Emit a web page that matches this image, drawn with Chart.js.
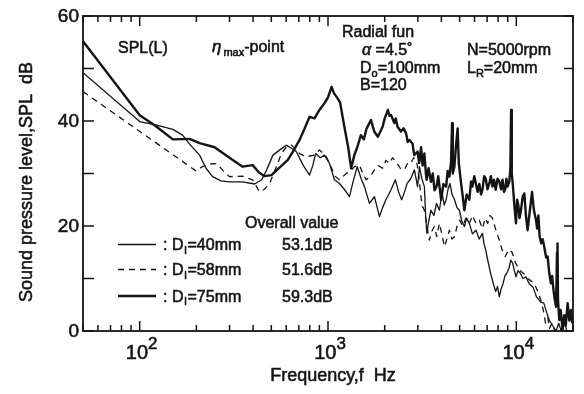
<!DOCTYPE html>
<html><head><meta charset="utf-8">
<script src="https://cdn.jsdelivr.net/npm/chart.js@4.4.1/dist/chart.umd.min.js"></script>
<style>html,body{margin:0;padding:0;background:#fff;}canvas{display:block}</style>
</head><body>
<canvas id="c" width="584" height="394"></canvas>
<script>
// ---------------- data ----------------
const freqD40 = [50,100,123,150,169,185,208,225,244,270,300,352,408,444,470,510,555,600,640,678,740,798,830,860,910,958,1018,1082,1150,1220,1300,1360,1430,1500,1562,1660,1765,1876,1950,2030,2100,2160,2280,2370,2460,2550,2630,2750,2877,2990,3058,3150,3250,3300,3350,3430,3520,3650,3770,3900,4040,4140,4240,4340,4440,4560,4700,4840,4984,5130,5300,5450,5630,5850,6110,6350,6610,6750,6880,7100,7300,7550,7770,7950,8124,8300,8500,8700,8900,9150,9350,9570,9760,9960,10200,10500,10850,11250,11700,12250,12800,13500,14000,14500,14962,15600,16260,16800,17300,18000,18500];
const splD40  = [49.2,39.9,39.2,38.4,37.3,35.5,33.5,31.0,29.4,28.6,28.4,28.4,28.0,28.8,30.5,33.5,34.5,35.4,34.8,34.2,31.5,29.7,31.5,33.8,33.0,33.5,31.9,28.8,28.1,27.0,25.6,28.5,31.3,29.0,27.5,24.3,25.6,21.8,23.5,25.0,26.0,26.9,28.8,26.5,25.0,26.5,28.1,29.0,30.7,27.5,31.3,29.0,27.5,22.0,18.6,21.0,23.0,22.0,24.3,23.0,26.2,24.0,25.0,27.0,28.1,26.0,25.0,23.5,23.0,21.0,19.9,21.5,20.5,18.5,19.2,17.5,18.6,16.5,15.4,13.0,11.0,9.0,7.5,8.5,6.5,8.0,9.0,10.5,11.0,12.0,13.5,12.9,11.5,10.3,11.5,11.0,10.0,10.3,9.0,8.4,6.5,5.5,5.3,3.5,2.1,1.0,0,1.5,0,2.5,0];

const freqD58 = [50,199,215,235,256,280,300,350,398,433,460,490,532,566,600,640,680,706,767,848,901,980,1030,1090,1150,1250,1320,1382,1469,1530,1595,1680,1765,1850,1950,2030,2120,2200,2300,2420,2546,2650,2750,2850,2950,3050,3150,3250,3350,3455,3560,3673,3780,3904,4020,4150,4280,4411,4550,4700,4850,5000,5200,5400,5632,5850,6100,6363,6600,6850,7050,7250,7470,7750,8124,8400,8740,9100,9500,9900,10372,10900,11500,12000,12457,13000,13500,13900,14300,14700,15000,15500,16000,17000];
const splD58  = [45.6,30.5,31.3,31.8,31.9,30.4,29.4,29.5,28.8,26.5,27.0,28.1,31.3,33.8,35.0,35.4,34.5,33.8,33.2,33.5,34.5,33.2,31.5,29.5,28.8,30.0,30.5,31.3,31.6,30.0,28.8,29.5,30.7,31.5,31.0,32.5,31.9,33.0,32.2,31.0,30.7,32.0,31.9,33.0,32.6,29.0,24.0,23.0,20.0,17.3,19.0,19.9,18.0,20.5,18.5,16.1,17.5,19.2,17.5,18.0,20.0,21.1,20.0,21.5,20.5,22.0,20.5,21.1,19.5,21.5,20.5,22.0,21.5,19.5,17.3,15.5,14.2,15.5,15.0,13.0,11.6,11.0,10.0,9.5,9.1,7.5,5.9,4.0,1.5,2.5,0.5,1.5,0,0.5];

const freqD75 = [50,100,120,150,184,208,250,300,352,398,430,460,501,540,612,660,706,750,798,848,880,901,958,981,1000,1045,1075,1125,1160,1220,1280,1327,1380,1430,1495,1550,1600,1690,1760,1840,1950,2000,2080,2120,2165,2250,2290,2340,2440,2520,2600,2650,2706,2810,2870,2990,3050,3120,3180,3250,3310,3340,3420,3520,3600,3680,3770,3850,3990,4100,4240,4320,4411,4500,4560,4600,4690,4800,4880,4950,5090,5200,5300,5450,5630,5750,5850,5980,6100,6230,6363,6500,6610,6750,6880,7030,7190,7330,7470,7620,7770,7950,8124,8300,8450,8600,8740,8860,8990,9180,9300,9380,9460,9570,9760,9960,10100,10250,10400,10590,10800,11025,11250,11480,11720,11900,12120,12400,12730,12900,13100,13300,13550,13800,14076,14400,14670,14960,15280,15500,15730,16000,16260,16450,16550,16650,16905,17200,17620,17970,18300,18730,19100,19500,19800];
const splD75  = [55.2,41.1,39.2,36.5,36.6,35.8,35.0,33.0,31.3,31.6,30.2,29.5,29.7,30.8,32.6,34.5,36.4,38.5,40.8,40.5,41.5,42.1,43.4,44.0,44.5,46.5,45.3,44.3,43.5,39.0,35.0,31.0,33.5,35.0,37.3,36.5,38.5,40.2,38.0,37.0,38.9,40.5,42.1,41.0,41.1,39.6,40.5,38.9,38.0,38.6,37.6,36.0,36.4,35.7,33.5,34.2,32.0,35.0,31.5,33.8,30.0,28.8,31.0,28.4,30.0,26.8,27.5,29.5,25.0,28.0,27.5,30.5,29.4,32.0,39.6,30.0,31.3,36.0,38.6,32.0,28.1,25.5,23.0,26.0,25.0,28.5,27.5,29.5,28.1,26.5,28.0,26.0,26.9,29.5,29.0,27.0,28.1,29.5,27.5,28.8,26.9,29.0,28.5,27.0,28.8,26.5,27.0,29.0,27.5,28.5,31.0,42.1,30.0,28.1,24.0,20.5,25.0,24.0,21.5,23.0,25.5,26.2,22.0,19.2,22.0,24.0,26.5,23.0,21.1,19.5,22.0,18.0,16.7,17.5,16.0,14.0,14.2,11.0,9.1,10.5,8.0,6.0,4.6,15.0,16.7,6.0,2.1,4.0,0.2,3.0,1.0,5.3,2.0,4.0,1.5];

const seriesNames   = ['40mm','58mm','75mm'];
const overallValues = ['53.1dB','51.6dB','59.3dB'];
const yTickValues   = [0,20,40,60];
const xDecades      = [100,1000,10000];
const xExponents    = ['2','3','4'];
const xMin = 50, xMax = 20000, yMin = 0, yMax = 60;

// ---------------- chart ----------------
const FONT = '"Liberation Sans", Arial, Helvetica, sans-serif';
const INK = '#141414';
const pts = (f, v) => f.map((x, i) => ({x: x, y: v[i]}));

const decor = {
  id: 'decor',
  afterDraw(chart) {
    const ctx = chart.ctx, a = chart.chartArea;
    const xs = chart.scales.x, ys = chart.scales.y;
    ctx.save();
    ctx.strokeStyle = INK; ctx.fillStyle = INK;
    // frame
    ctx.lineWidth = 1.8;
    ctx.strokeRect(a.left, a.top, a.right - a.left, a.bottom - a.top);
    // y ticks (inward, both sides)
    ctx.lineWidth = 1.5;
    for (let v = yMin; v <= yMax; v += 10) {
      const y = ys.getPixelForValue(v);
      ctx.beginPath();
      ctx.moveTo(a.left, y); ctx.lineTo(a.left + 11, y);
      ctx.moveTo(a.right, y); ctx.lineTo(a.right - 9, y);
      ctx.stroke();
    }
    // x ticks (inward, top and bottom)
    for (let d = 10; d <= 10000; d *= 10) {
      for (let m = 1; m <= 9; m++) {
        const f = m * d;
        if (f < xMin || f > xMax) continue;
        const x = xs.getPixelForValue(f);
        const len = m === 1 ? 10 : 6;
        ctx.beginPath();
        ctx.moveTo(x, a.bottom); ctx.lineTo(x, a.bottom - len);
        ctx.moveTo(x, a.top); ctx.lineTo(x, a.top + len);
        ctx.stroke();
      }
    }
    // text helper: filled plus a thin stroke to mimic the heavy scanned type
    const put = (s, x, y) => { ctx.fillText(s, x, y); ctx.lineWidth = 0.55; ctx.strokeText(s, x, y); };
    // y tick labels
    ctx.font = '19px ' + FONT;
    ctx.textAlign = 'right'; ctx.textBaseline = 'middle';
    yTickValues.forEach(v => put(String(v), a.left - 4, ys.getPixelForValue(v) + 1));
    // x tick labels 10^n
    xDecades.forEach((f, i) => {
      const x = xs.getPixelForValue(f);
      ctx.font = '20px ' + FONT;
      const w1 = ctx.measureText('10').width;
      ctx.font = '17px ' + FONT;
      const w2 = ctx.measureText(xExponents[i]).width;
      const x0 = x + 2 - (w1 + w2) / 2;
      ctx.textAlign = 'left'; ctx.textBaseline = 'alphabetic';
      ctx.font = '20px ' + FONT;
      put('10', x0, 359);
      ctx.font = '17px ' + FONT;
      put(xExponents[i], x0 + w1, 349);
    });
    // axis titles
    ctx.font = '18px ' + FONT;
    ctx.textAlign = 'center'; ctx.textBaseline = 'alphabetic';
    put('Frequency,f  Hz', 333, 381);
    ctx.save();
    ctx.translate(32, 182); ctx.rotate(-Math.PI / 2);
    put('Sound pressure level,SPL  dB', 0, 0);
    ctx.restore();
    // annotations
    const T = (s, x, y, size, style) => {
      ctx.font = (style || '') + ' ' + size + 'px ' + FONT;
      ctx.textAlign = 'left'; ctx.textBaseline = 'alphabetic';
      put(s, x, y);
      return x + ctx.measureText(s).width;
    };
    T('SPL(L)', 118, 53, 16);
    let xx = T('η', 212, 52, 17, 'italic');
    xx = T('max', xx + 2, 56, 11);
    T('-point', xx, 52, 16);
    T('Radial fun', 342, 37, 16);
    xx = T('α', 362, 55, 16, 'italic');
    T(' =4.5˚', xx, 55, 16);
    xx = T('D', 360, 73, 16);
    xx = T('o', xx, 77, 11);
    T('=100mm', xx, 73, 16);
    T('B=120', 360, 90, 16);
    T('N=5000rpm', 467, 55, 16);
    xx = T('L', 467, 73, 16);
    xx = T('R', xx, 77, 11);
    T('=20mm', xx, 73, 16);
    // legend
    T('Overall value', 245, 228, 16);
    const rows = [244.5, 269.5, 296];
    chart.data.datasets.forEach((ds, i) => {
      ctx.save();
      ctx.lineWidth = ds.borderWidth;
      ctx.setLineDash(ds.borderDash || []);
      ctx.beginPath(); ctx.moveTo(118, rows[i]); ctx.lineTo(156, rows[i]); ctx.stroke();
      ctx.restore();
      let x2 = T(': D', 163, rows[i] + 5.5, 16);
      x2 = T('I', x2 + 0.5, rows[i] + 9, 11);
      T('=' + seriesNames[i], x2 + 0.5, rows[i] + 5.5, 16);
      T(overallValues[i], 282, rows[i] + 5.5, 16);
    });
    ctx.restore();
  }
};

new Chart(document.getElementById('c'), {
  type: 'line',
  data: {
    datasets: [
      {label: 'DI=40mm', data: pts(freqD40, splD40), borderColor: INK, borderWidth: 1.3, borderDash: []},
      {label: 'DI=58mm', data: pts(freqD58, splD58), borderColor: INK, borderWidth: 1.3, borderDash: [6, 5]},
      {label: 'DI=75mm', data: pts(freqD75, splD75), borderColor: INK, borderWidth: 2.4, borderDash: []}
    ]
  },
  options: {
    responsive: false,
    animation: false,
    devicePixelRatio: 1,
    layout: {padding: {left: 83, right: 11, top: 16, bottom: 63}},
    elements: {point: {radius: 0}, line: {tension: 0, borderJoinStyle: 'round', fill: false}},
    plugins: {legend: {display: false}, tooltip: {enabled: false}},
    scales: {
      x: {type: 'logarithmic', min: xMin, max: xMax, display: false},
      y: {type: 'linear', min: yMin, max: yMax, display: false}
    }
  },
  plugins: [decor]
});
</script>
</body></html>
